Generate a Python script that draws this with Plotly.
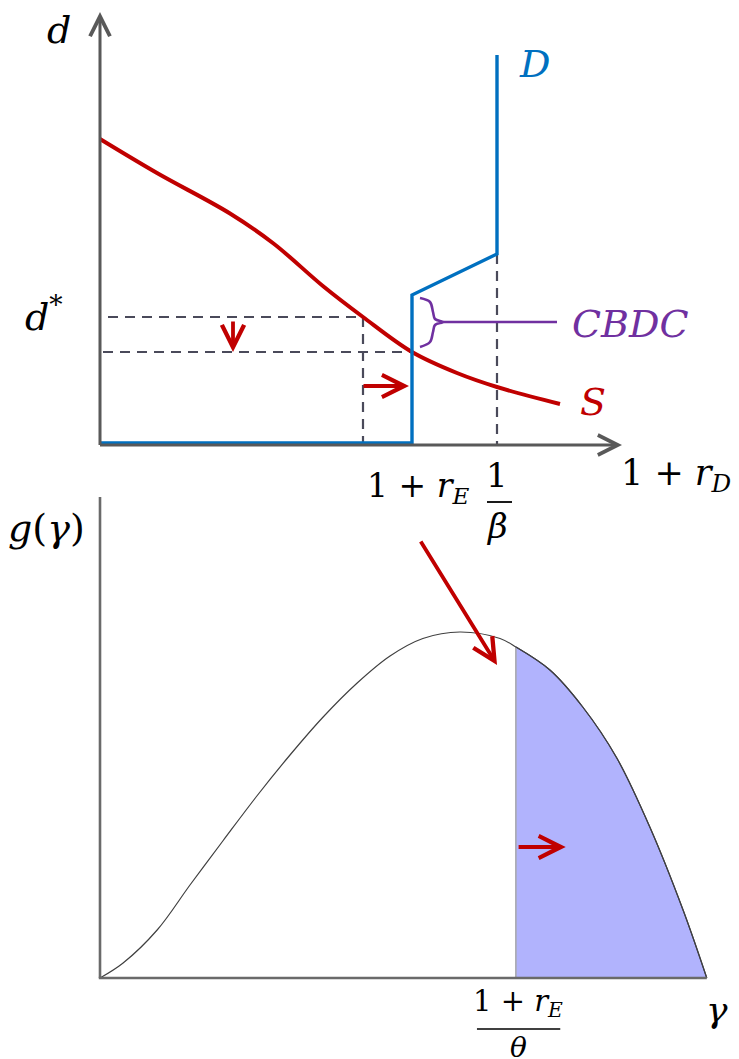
import plotly.graph_objects as go

W, H = 739, 1059

# ---------- top panel: deposit market ----------
# supply of deposits S (rate, quantity)
s_rate = [0.0, 1.14, 2.6, 3.47, 4.47, 5.26, 6.24, 7.14, 7.94, 9.2]
s_dep = [6.12, 5.44, 4.63, 4.03, 3.17, 2.56, 1.86, 1.44, 1.16, 0.82]

rate_old = 5.26    # equilibrium rate without CBDC
rate_e = 6.24      # 1 + r_E
rate_beta = 7.94   # 1 / beta
dep_old = 2.56     # d*
dep_new = 1.86

# bank demand for deposits D
d_rate = [0.0, rate_e, rate_e, rate_beta, rate_beta]
d_dep = [0.04, 0.04, 3.0, 3.82, 7.8]

# curly brace marking the CBDC wedge
brace_x = [6.4, 6.6, 6.66, 6.7, 6.86, 6.7, 6.66, 6.6, 6.4]
brace_y = [2.94, 2.86, 2.66, 2.52, 2.46, 2.40, 2.26, 2.06, 1.96]
brace_tail = 9.14

top_x_max, top_y_max = 10.44, 8.66

# ---------- bottom panel: density g(gamma) ----------
g_x = [0.0, 0.038, 0.094, 0.148, 0.202, 0.258, 0.3125, 0.367, 0.423, 0.477,
       0.531, 0.592, 0.658, 0.684, 0.740, 0.794, 0.850, 0.905, 0.959, 0.998]
g_y = [0.0, 0.15, 0.48, 0.93, 1.37, 1.82, 2.23, 2.61, 2.95, 3.22,
       3.395, 3.46, 3.395, 3.31, 3.08, 2.71, 2.20, 1.50, 0.68, 0.0]
gamma_cut = 0.684  # (1 + r_E) / theta
bot_x_max, bot_y_max = 1.0, 4.81

# ---------- colours ----------
RED = "#C00000"
BLUE = "#0070C0"
PURPLE = "#7030A0"
AXIS = "#595959"
DASH = "#4a4a5a"
FONT = "DejaVu Serif"

# panel geometry (pixel origin and pixels per unit)
TOP = dict(ox=100, oy=445, sx=50, sy=50, xr=[-1.8, 12.7], yr=[-2.0, 8.9])
BOT = dict(ox=100, oy=978, sx=608, sy=100, xr=[-0.16, 1.05], yr=[-0.8, 4.9])


def domains(p):
    x0 = (p["ox"] + p["xr"][0] * p["sx"]) / W
    x1 = (p["ox"] + p["xr"][1] * p["sx"]) / W
    y0 = 1 - (p["oy"] - p["yr"][0] * p["sy"]) / H
    y1 = 1 - (p["oy"] - p["yr"][1] * p["sy"]) / H
    clamp = lambda v: min(1.0, max(0.0, v))
    return [clamp(x0), clamp(x1)], [clamp(y0), clamp(y1)]


fig = go.Figure()


def line(x, y, color, width, axes=("x", "y"), dash=None, shape="linear", **kw):
    fig.add_trace(go.Scatter(
        x=x, y=y, mode="lines", xaxis=axes[0], yaxis=axes[1],
        line=dict(color=color, width=width, dash=dash, shape=shape),
        hoverinfo="skip", **kw))


annotations = []


def arrow(x0, y0, x1, y1, color, width, size, axes=("x", "y")):
    annotations.append(dict(
        x=x1, y=y1, ax=x0, ay=y0, xref=axes[0], yref=axes[1],
        axref=axes[0], ayref=axes[1], text="", showarrow=True,
        arrowhead=5, arrowsize=size, arrowwidth=width, arrowcolor=color,
        standoff=0, startstandoff=0))


def label(text, x, y, size, color="#000000", axes=("x", "y"), xanchor="center"):
    annotations.append(dict(
        x=x, y=y, xref=axes[0], yref=axes[1], text=text, showarrow=False,
        xanchor=xanchor, yanchor="middle",
        font=dict(family=FONT, size=size, color=color)))


# ----- top panel marks -----
# dashed guides
line([0.16, rate_old], [dep_old, dep_old], DASH, 2.2, dash="10px,7px")
line([0.06, rate_e], [dep_new, dep_new], DASH, 2.2, dash="10px,7px")
line([rate_old, rate_old], [dep_old, 0], DASH, 2.2, dash="10px,7px")
line([rate_beta, rate_beta], [d_dep[3], 0], DASH, 2.2, dash="10px,7px")

# supply and demand
line(s_rate, s_dep, RED, 4, shape="spline")
line(d_rate, d_dep, BLUE, 3.4)

# brace and its leader
line(brace_x, brace_y, PURPLE, 2.6, shape="spline")
line([brace_x[4], brace_tail], [brace_y[4], brace_y[4]], PURPLE, 2.6)

# fraction bar under 1/beta
line([rate_beta - 0.2, rate_beta + 0.3], [-1.14, -1.14], "#000000", 1.8)

# axes with arrow tips
arrow(-0.03, 0, top_x_max, 0, AXIS, 3, 1.3)
arrow(0, -0.03, 0, top_y_max, AXIS, 3, 1.3)

# shift arrows
arrow(2.66, 2.5, 2.66, dep_new, RED, 3.8, 1.15)
arrow(rate_old - 0.02, 1.18, rate_e - 0.06, 1.18, RED, 3.8, 1.15)

# labels
label("<i>d</i>", -0.82, 8.3, 38)
label("<i>d</i><sup>*</sup>", -1.55, 2.62, 38, xanchor="left")
label("<i>D</i>", 8.34, 7.62, 38, BLUE, xanchor="left")
label("<i>S</i>", 9.56, 0.86, 38, RED, xanchor="left")
label("<i>CBDC</i>", 9.4, 2.42, 38, PURPLE, xanchor="left")
label("1 + <i>r</i><sub><i>D</i></sub>", 12.68, -0.6, 35, xanchor="right")
label("1 + <i>r</i><sub><i>E</i></sub>", 5.3, -0.84, 33, xanchor="left")
label("1", rate_beta, -0.6, 34)
label("<i>β</i>", rate_beta, -1.62, 34)

# ----- bottom panel marks -----
B = ("x2", "y2")
k = g_x.index(gamma_cut)
line(g_x[k:], g_y[k:], "#3c3c50", 1.2, axes=B, shape="spline",
     fill="tozeroy", fillcolor="#b1b3fd")
line([gamma_cut, gamma_cut], [0, g_y[k]], "#a8a8b0", 1.6, axes=B)
line(g_x, g_y, "#404040", 1.2, axes=B, shape="spline")

# axes
line([0, 0], [0, bot_y_max], "#6a6a6a", 2.6, axes=B)
line([-0.002, bot_x_max * 0.998], [0, 0], "#6a6a6a", 2.6, axes=B)

# fraction bar under (1 + r_E) / theta
line([0.62, 0.757], [-0.51, -0.51], "#000000", 1.6, axes=B)

arrow(0.526, 4.38, 0.653, 3.13, RED, 3.8, 1.15, axes=B)
arrow(0.686, 1.31, 0.766, 1.31, RED, 3.8, 1.15, axes=B)

label("<i>g</i>(<i>γ</i>)", -0.155, 4.5, 38, axes=B, xanchor="left")
label("<i>γ</i>", 1.015, -0.31, 36, axes=B)
label("1 + <i>r</i><sub><i>E</i></sub>", 0.6875, -0.25, 29, axes=B)
label("<i>θ</i>", 0.6875, -0.69, 28, axes=B)

# ----- layout -----
tx, ty = domains(TOP)
bx, by = domains(BOT)
hidden = dict(visible=False, fixedrange=True)
fig.update_layout(
    width=W, height=H, margin=dict(l=0, r=0, t=0, b=0),
    paper_bgcolor="white", plot_bgcolor="rgba(0,0,0,0)",
    showlegend=False, annotations=annotations,
    xaxis=dict(domain=tx, range=TOP["xr"], anchor="y", **hidden),
    yaxis=dict(domain=ty, range=TOP["yr"], anchor="x", **hidden),
    xaxis2=dict(domain=bx, range=BOT["xr"], anchor="y2", **hidden),
    yaxis2=dict(domain=by, range=BOT["yr"], anchor="x2", **hidden),
)

fig.write_html("out.html")
